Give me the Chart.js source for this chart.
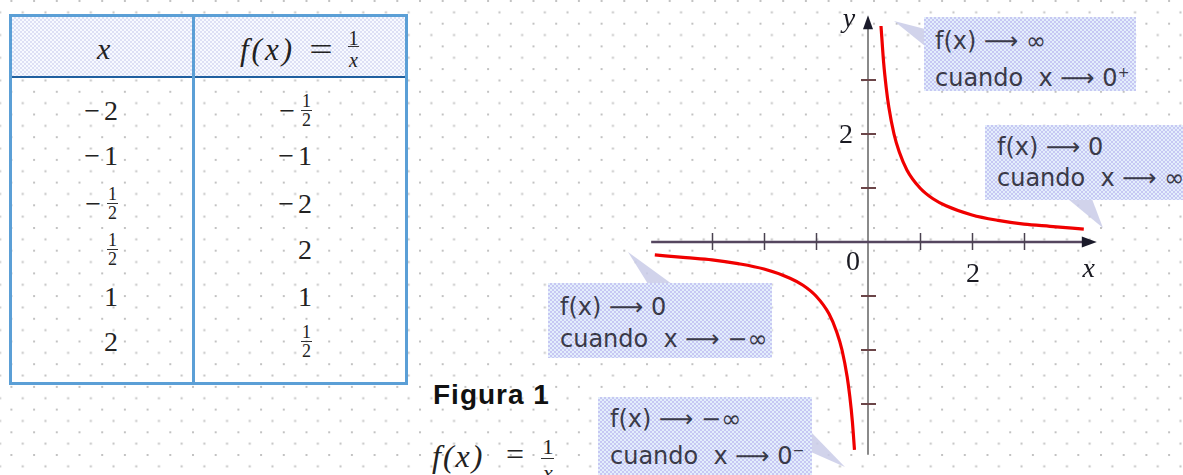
<!DOCTYPE html>
<html><head><meta charset="utf-8">
<script src="https://cdn.jsdelivr.net/npm/chart.js@4/dist/chart.umd.min.js"></script>
<style>
html,body{margin:0;padding:0;width:1183px;height:475px;overflow:hidden;background:#fff;}
body{position:relative;font-family:"Liberation Serif",serif;color:#222;}
#bg{position:absolute;left:0;top:0;}
.abs{position:absolute;line-height:1;white-space:pre;}
#table{position:absolute;left:9px;top:14px;width:399px;height:371px;box-sizing:border-box;border:3px solid #5b9fd6;}
#thead{position:absolute;left:0;top:0;right:0;height:59px;border-bottom:2px solid #1f5f9f;
 background:repeating-conic-gradient(#dde0f5 0 25%,#f7faff 0 50%) 0 0/4px 4px;}
#tdiv{position:absolute;left:180px;top:0;bottom:0;width:3px;background:#5b9fd6;}
.cell{position:absolute;height:44px;display:flex;align-items:center;justify-content:flex-end;font-size:28px;width:160px;}
.frac{display:inline-flex;flex-direction:column;align-items:center;font-size:18px;line-height:15px;margin-left:2px;}
.frac .bar{width:11px;border-top:1.5px solid #333;margin:1px 0 2px 0;height:0;}
.minus{margin-right:4px;}
.box{position:absolute;box-sizing:border-box;font-family:"DejaVu Sans",sans-serif;font-size:24px;color:#3a3a48;white-space:pre;
 background:repeating-conic-gradient(#c7c8f3 0 25%,#e3eefc 0 50%) 0 0/4px 4px;}
.box sup{font-size:14px;vertical-align:9px;}
.ar{display:inline-block;transform:scaleX(1.15);}
#c{position:absolute;left:0;top:0;width:1183px;height:475px;}
</style></head>
<body>
<svg id="bg" width="1183" height="475" xmlns="http://www.w3.org/2000/svg">
 <defs><pattern id="dots" patternUnits="userSpaceOnUse" width="22.7" height="22.7" x="10.4" y="0">
  <rect x="0" y="0" width="2" height="2" fill="#c2c2c2"/>
  <rect x="11.35" y="11.35" width="2" height="2" fill="#c2c2c2"/>
 </pattern></defs>
 <rect x="0" y="0" width="1183" height="475" fill="url(#dots)"/>
 <g fill="#c9cbe8" opacity="0.85">
  <polygon points="894,21 925,29 925,46"/>
  <polygon points="1068,199 1092,199 1103,228"/>
  <polygon points="628,252 648,284 672,284"/>
  <polygon points="811,432 811,452 845,467"/>
 </g>
</svg>

<div id="table"><div id="thead"></div><div id="tdiv"></div></div>

<div class="box" style="left:924px;top:17px;width:212px;height:74px;padding:9px 0 0 11px;line-height:31px;">f(x) ⟶ ∞
cuando  x ⟶ 0<sup>+</sup></div>
<div class="box" style="left:985px;top:125px;width:220px;height:75px;padding:7px 0 0 12px;line-height:31px;">f(x) ⟶ 0
cuando  x ⟶ ∞</div>
<div class="box" style="left:548px;top:283px;width:224px;height:75px;padding:8px 0 0 12px;line-height:32px;">f(x) ⟶ 0
cuando  x ⟶ −∞</div>
<div class="box" style="left:598px;top:397px;width:214px;height:78px;padding:7px 0 0 12px;line-height:31px;">f(x) ⟶ −∞
cuando  x ⟶ 0<sup>−</sup></div>

<div class="abs" style="left:433px;top:381px;font-family:'Liberation Sans',sans-serif;font-weight:bold;font-size:28px;letter-spacing:1px;color:#111;">Figura 1</div>
<div class="abs" style="left:432px;top:440px;font-size:32px;font-style:italic;letter-spacing:2px;">f(x)</div>
<div class="abs" style="left:506px;top:438px;font-size:32px;">=</div>
<div class="abs" style="left:541px;top:436px;font-size:22px;width:14px;text-align:center;">1</div>
<div class="abs" style="left:541px;top:458px;width:13px;border-top:1.5px solid #333;height:0;"></div>
<div class="abs" style="left:541px;top:462px;font-size:22px;font-style:italic;width:14px;text-align:center;">x</div>

<canvas id="c" width="1183" height="475"></canvas>

<script>
// ---- data ----
const rightX = [0.25, 0.3, 0.35, 0.4, 0.5, 0.6, 0.75, 1, 1.25, 1.5, 2, 2.5, 3, 3.5, 4.15];
const rightY = [4.0, 3.33, 2.86, 2.5, 2.0, 1.67, 1.33, 1.0, 0.8, 0.67, 0.5, 0.4, 0.33, 0.29, 0.24];
const leftX  = [-4.1, -3.5, -3, -2.5, -2, -1.5, -1.25, -1, -0.75, -0.6, -0.5, -0.4, -0.35, -0.3, -0.26];
const leftY  = [-0.24, -0.29, -0.33, -0.4, -0.5, -0.67, -0.8, -1.0, -1.33, -1.67, -2.0, -2.5, -2.86, -3.33, -3.85];
const xTicks = [-3, -2, -1, 1, 2, 3];
const yTicks = [-3, -2, -1, 1, 2, 3];
const xTickLabels = ["2"];
const xTickLabelValues = [2];
const yTickLabels = ["2"];
const yTickLabelValues = [2];
const xAxisRange = [-4.17, 4.4];
const yAxisRange = [-3.94, 4.2];
const tableX = ["−2", "−1", "−1/2", "1/2", "1", "2"];
const tableF = ["−1/2", "−1", "−2", "2", "1", "1/2"];
const tableHeader = ["x", "f(x)", "1", "x"];

// ---- table ----
const rowCenters = [111, 156, 204, 250, 297, 342];
function cellHTML(s){
  let neg = s.startsWith("−"); let body = neg ? s.slice(1) : s;
  let h = neg ? '<span class="minus">−</span>' : '';
  if (body.includes("/")) { const [n,d] = body.split("/");
    h += '<span class="frac"><span>'+n+'</span><span class="bar"></span><span>'+d+'</span></span>'; }
  else h += '<span>'+body+'</span>';
  return h;
}
const tbl = document.getElementById('table');
tableX.forEach((v,i)=>{
  const d=document.createElement('div'); d.className='cell';
  d.style.left=(118-12-160)+'px'; d.style.top=(rowCenters[i]-14-3-22)+'px'; d.innerHTML=cellHTML(v); tbl.appendChild(d);
  const e=document.createElement('div'); e.className='cell';
  e.style.left=(312-12-160)+'px'; e.style.top=(rowCenters[i]-14-3-22)+'px'; e.innerHTML=cellHTML(tableF[i]); tbl.appendChild(e);
});
function addAbs(css, txt){ const el=document.createElement('div'); el.className='abs'; el.style.cssText+=css; if(txt!==null) el.textContent=txt; tbl.appendChild(el); }
addAbs('left:85px;top:17px;font-size:30px;font-style:italic;', tableHeader[0]);
addAbs('left:228px;top:17px;font-size:31px;font-style:italic;letter-spacing:3px;', tableHeader[1]);
addAbs('left:300px;top:16px;font-size:32px;transform:scaleX(1.3);', '=');
addAbs('left:335px;top:11px;font-size:20px;width:13px;text-align:center;', tableHeader[2]);
addAbs('left:336px;top:29px;width:11px;height:0;border-top:1.5px solid #333;', null);
addAbs('left:335px;top:33px;font-size:20px;font-style:italic;width:13px;text-align:center;', tableHeader[3]);

// ---- chart ----
const axesPlugin = {
  id: 'axesDraw',
  beforeDatasetsDraw(chart) {
    const {ctx, scales:{x, y}} = chart;
    const x0 = x.getPixelForValue(0), y0 = y.getPixelForValue(0);
    ctx.save();
    ctx.strokeStyle = '#8a8a8a'; ctx.lineWidth = 2;
    ctx.beginPath(); ctx.moveTo(x0, y.getPixelForValue(yAxisRange[0])); ctx.lineTo(x0, y.getPixelForValue(yAxisRange[1]) + 8); ctx.stroke();
    ctx.strokeStyle = '#55465f'; ctx.lineWidth = 2.5;
    ctx.beginPath(); ctx.moveTo(x.getPixelForValue(xAxisRange[0]), y0); ctx.lineTo(x.getPixelForValue(xAxisRange[1]) - 8, y0); ctx.stroke();
    ctx.fillStyle = '#1a1a2a';
    const xt = x.getPixelForValue(xAxisRange[1]);
    ctx.beginPath(); ctx.moveTo(xt, y0); ctx.lineTo(xt - 15, y0 - 5.5); ctx.lineTo(xt - 15, y0 + 5.5); ctx.closePath(); ctx.fill();
    const yt = y.getPixelForValue(yAxisRange[1]);
    ctx.beginPath(); ctx.moveTo(x0, yt); ctx.lineTo(x0 - 5, yt + 14); ctx.lineTo(x0 + 5, yt + 14); ctx.closePath(); ctx.fill();
    ctx.strokeStyle = '#4a4250'; ctx.lineWidth = 1.5;
    xTicks.forEach(v => { const p = Math.round(x.getPixelForValue(v)) + 0.5;
      ctx.beginPath(); ctx.moveTo(p, y0 - 9); ctx.lineTo(p, y0 + 8); ctx.stroke(); });
    ctx.strokeStyle = '#6b4548'; ctx.lineWidth = 2;
    yTicks.forEach(v => { const p = Math.round(y.getPixelForValue(v));
      ctx.beginPath(); ctx.moveTo(x0 - 7, p); ctx.lineTo(x0 + 8, p); ctx.stroke(); });
    ctx.fillStyle = '#1a1a22'; ctx.textAlign = 'center'; ctx.textBaseline = 'alphabetic';
    ctx.font = '28px "Liberation Serif"';
    ctx.fillText('0', x0 - 15, y0 + 28);
    xTickLabelValues.forEach((v, i) => ctx.fillText(xTickLabels[i], x.getPixelForValue(v) + 1, y0 + 40));
    yTickLabelValues.forEach((v, i) => ctx.fillText(yTickLabels[i], x0 - 22, y.getPixelForValue(v) + 9));
    ctx.font = 'italic 28px "Liberation Serif"';
    ctx.fillText('x', x.getPixelForValue(xAxisRange[1]) - 8, y0 + 35);
    ctx.fillText('y', x0 - 19, y.getPixelForValue(yAxisRange[1]) + 12);
    ctx.restore();
  }
};

const toPts = (xs, ys) => xs.map((v, i) => ({x: v, y: ys[i]}));
new Chart(document.getElementById('c'), {
  type: 'scatter',
  data: { datasets: [
    { data: toPts(rightX, rightY), showLine: true, borderColor: '#f00000', borderWidth: 3.2, pointRadius: 0, cubicInterpolationMode: 'monotone', fill: false },
    { data: toPts(leftX, leftY), showLine: true, borderColor: '#f00000', borderWidth: 3.2, pointRadius: 0, cubicInterpolationMode: 'monotone', fill: false }
  ]},
  options: {
    responsive: false, animation: false, devicePixelRatio: 1,
    layout: { padding: 0 },
    plugins: { legend: { display: false }, tooltip: { enabled: false } },
    scales: {
      x: { type: 'linear', display: false, min: -868 / 52, max: 315 / 52 },
      y: { type: 'linear', display: false, min: -233 / 54, max: 242 / 54 }
    }
  },
  plugins: [axesPlugin]
});
</script>
</body></html>
